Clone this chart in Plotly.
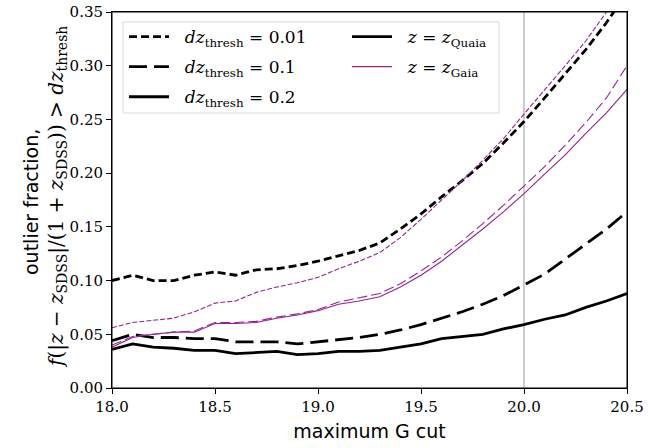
import plotly.graph_objects as go

g_cut = [18.0, 18.1, 18.2, 18.3, 18.4, 18.5, 18.6, 18.7, 18.8, 18.9, 19.0, 19.1, 19.2,
         19.3, 19.4, 19.5, 19.6, 19.7, 19.8, 19.9, 20.0, 20.1, 20.2, 20.3, 20.4, 20.5]

quaia_001 = [0.100, 0.105, 0.100, 0.100, 0.105, 0.108, 0.105, 0.110, 0.111, 0.114, 0.118, 0.123, 0.128,
             0.135, 0.148, 0.162, 0.178, 0.193, 0.209, 0.228, 0.248, 0.270, 0.292, 0.315, 0.340, 0.368]
quaia_01 = [0.044, 0.050, 0.047, 0.047, 0.046, 0.046, 0.043, 0.043, 0.043, 0.041, 0.043, 0.045, 0.047,
            0.050, 0.054, 0.059, 0.065, 0.071, 0.078, 0.086, 0.096, 0.106, 0.120, 0.134, 0.148, 0.164]
quaia_02 = [0.036, 0.041, 0.038, 0.037, 0.035, 0.035, 0.032, 0.033, 0.034, 0.031, 0.032, 0.034, 0.034,
            0.035, 0.038, 0.041, 0.046, 0.048, 0.050, 0.055, 0.059, 0.064, 0.068, 0.075, 0.081, 0.088]

gaia_001 = [0.056, 0.061, 0.063, 0.065, 0.071, 0.079, 0.081, 0.089, 0.094, 0.098, 0.103, 0.111, 0.118,
            0.126, 0.140, 0.157, 0.175, 0.193, 0.212, 0.232, 0.255, 0.277, 0.300, 0.323, 0.350, 0.380]
gaia_01 = [0.040, 0.048, 0.050, 0.052, 0.053, 0.061, 0.061, 0.062, 0.066, 0.069, 0.073, 0.080, 0.084,
           0.088, 0.097, 0.109, 0.122, 0.137, 0.153, 0.170, 0.188, 0.206, 0.226, 0.247, 0.270, 0.300]
gaia_02 = [0.038, 0.047, 0.050, 0.052, 0.052, 0.060, 0.060, 0.061, 0.065, 0.068, 0.072, 0.078, 0.081,
           0.085, 0.094, 0.105, 0.118, 0.133, 0.148, 0.164, 0.181, 0.199, 0.217, 0.237, 0.256, 0.278]

thresh_labels = ["0.01", "0.1", "0.2"]
vline_g = 20.0

x_ticks = [18.0, 18.5, 19.0, 19.5, 20.0, 20.5]
y_ticks = [0.00, 0.05, 0.10, 0.15, 0.20, 0.25, 0.30, 0.35]

BLACK = "black"
MAG = "#922492"
SERIF = "DejaVu Serif"
SANS = "DejaVu Sans"

black_dash = ["8px,4px", "18px,7px", "solid"]
mag_dash = ["5px,2px", "10px,4px", "solid"]

fig = go.Figure()

for ys, d in zip([quaia_001, quaia_01, quaia_02], black_dash):
    fig.add_trace(go.Scatter(x=g_cut, y=ys, mode="lines", showlegend=False,
                             line=dict(color=BLACK, width=2.8, dash=d)))
for ys, d in zip([gaia_001, gaia_01, gaia_02], mag_dash):
    fig.add_trace(go.Scatter(x=g_cut, y=ys, mode="lines", showlegend=False,
                             line=dict(color=MAG, width=1.1, dash=d)))

PAD = "&nbsp;&nbsp;"
# legend entries
for i, (lab, d) in enumerate(zip(thresh_labels, black_dash)):
    fig.add_trace(go.Scatter(x=[None], y=[None], mode="lines",
                             name=f"{PAD}<i>dz</i><sub>thresh</sub> = {lab}",
                             legend="legend", legendgroup=f"t{i}",
                             line=dict(color=BLACK, width=2.8, dash=d)))
fig.add_trace(go.Scatter(x=[None], y=[None], mode="lines",
                         name=f"{PAD}<i>z</i> = <i>z</i><sub>Quaia</sub>", legend="legend2", legendgroup="q",
                         line=dict(color=BLACK, width=2.8)))
fig.add_trace(go.Scatter(x=[None], y=[None], mode="lines",
                         name=f"{PAD}<i>z</i> = <i>z</i><sub>Gaia</sub>", legend="legend2", legendgroup="ga",
                         line=dict(color=MAG, width=1.1)))

W, H = 668, 448
PL, PR, PT, PB = 112, 627, 12, 388   # plot area in page pixels
L, R, T, B = PL, W - PR, PT, H - PB
pw, ph = PR - PL, PB - PT


def px_x(p):
    return (p - PL) / pw


def px_y(p):
    return (PB - p) / ph


fig.add_shape(type="line", xref="x", yref="paper", x0=vline_g, x1=vline_g, y0=0, y1=1,
              line=dict(color="#999999", width=1), layer="below")
fig.add_shape(type="rect", xref="paper", yref="paper",
              x0=px_x(123), x1=px_x(499), y0=px_y(113), y1=px_y(22),
              line=dict(color="#d9d9d9", width=1), fillcolor="rgba(255,255,255,0.8)", layer="above")
# axes frame
fig.add_shape(type="rect", xref="paper", yref="paper", x0=0, x1=1, y0=0, y1=1,
              line=dict(color="black", width=1), fillcolor="rgba(0,0,0,0)", layer="above")

legend_common = dict(bgcolor="rgba(0,0,0,0)", borderwidth=0, font=dict(family=SERIF, size=17, color="black"),
                     itemwidth=40, xanchor="left", yanchor="top", tracegroupgap=5)

fig.update_layout(
    width=W, height=H,
    margin=dict(l=L, r=R, t=T, b=B, autoexpand=False),
    plot_bgcolor="white", paper_bgcolor="white",
    legend=dict(x=px_x(124), y=px_y(19), **legend_common),
    legend2=dict(x=px_x(347), y=px_y(19), **legend_common),
    xaxis=dict(range=[18.0, 20.5], tickvals=x_ticks, tickformat=".1f", automargin=False,
               showgrid=False, zeroline=False, showline=True, linecolor="black", linewidth=1,
               mirror=True, ticks="outside", ticklen=5, tickcolor="black",
               tickfont=dict(family=SERIF, size=15, color="black"),
               title=dict(text="maximum G cut", font=dict(family=SANS, size=19, color="black"), standoff=9)),
    yaxis=dict(range=[0, 0.35], tickvals=y_ticks, tickformat=".2f", automargin=False,
               showgrid=False, zeroline=False, showline=True, linecolor="black", linewidth=1,
               mirror=True, ticks="outside", ticklen=5, tickcolor="black",
               tickfont=dict(family=SERIF, size=15, color="black")),
)

fig.add_annotation(xref="paper", yref="paper", x=px_x(31), y=px_y(202), xanchor="center", yanchor="middle",
                   text="outlier fraction,", textangle=-90, showarrow=False,
                   font=dict(family=SANS, size=19, color="black"))
fig.add_annotation(xref="paper", yref="paper", x=px_x(57), y=px_y(197), xanchor="center", yanchor="middle",
                   text="<i>f</i>(|<i>z</i> − <i>z</i><sub>SDSS</sub>|/(1 + <i>z</i><sub>SDSS</sub>)) &gt; <i>dz</i><sub>thresh</sub>",
                   textangle=-90, showarrow=False,
                   font=dict(family=SERIF, size=20, color="black"))

fig.write_html("out.html", config={"displayModeBar": False},
               post_script="document.body.style.margin='0px';")
